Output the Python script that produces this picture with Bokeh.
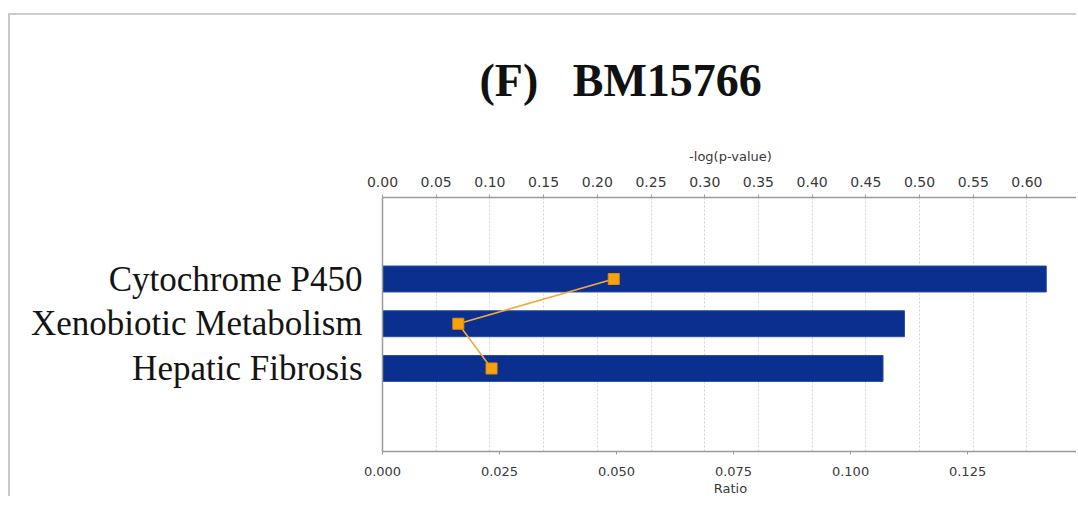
from bokeh.plotting import figure
from bokeh.models import Range1d, LinearAxis, FixedTicker, NumeralTickFormatter, ColumnDataSource
from bokeh.embed import file_html
from bokeh.resources import INLINE

# ---- data ----
pathways = ["Cytochrome P450", "Xenobiotic Metabolism", "Hepatic Fibrosis"]
neg_log_p = [0.618, 0.486, 0.466]
ratio = [0.0494, 0.0162, 0.0233]
top_ticks = [0.00, 0.05, 0.10, 0.15, 0.20, 0.25, 0.30, 0.35, 0.40, 0.45, 0.50, 0.55, 0.60]
bottom_ticks = [0.000, 0.025, 0.050, 0.075, 0.100, 0.125, 0.150]
title_text = "(F)\u00a0\u00a0 BM15766"

n = len(pathways)
ypos = [n - i for i in range(n)]
src = ColumnDataSource(dict(y=ypos, name=pathways, p=neg_log_p, r=ratio))

p = figure(width=1068, height=483, output_backend="svg", toolbar_location=None,
           x_range=Range1d(0, 0.648), y_range=Range1d(-0.856, 4.822),
           x_axis_location="above", min_border_left=372, min_border_right=0,
           min_border_top=182, min_border_bottom=45)
p.styles = {"border-top": "2px solid #cbcbcb", "border-left": "2px solid #cbcbcb",
            "margin-top": "13px", "margin-left": "8px"}
p.outline_line_color = None
p.extra_x_ranges = {"ratio": Range1d(0, 0.1487)}

# title
p.title.text = title_text
p.title.text_font = "Liberation Serif"
p.title.text_font_style = "bold"
p.title.text_font_size = "46px"
p.title.text_color = "#111111"
p.title.align = "left"
p.title.vertical_align = "top"
p.title.offset = 97
p.title.standoff = 76

# bars (top axis: -log(p-value))
p.hbar(y="y", right="p", left=0, height=0.58, source=src,
       fill_color="#0a2f8f", line_color="#2a4ea3", line_width=1)

# ratio line + squares (bottom axis)
p.line(x="r", y="y", source=src, x_range_name="ratio", line_color="#f2a93b", line_width=1.6)
p.scatter(x="r", y="y", source=src, x_range_name="ratio", marker="square", size=11,
          fill_color="#f7a20f", line_color="#e58c00", line_width=1)

# top axis
ax = p.xaxis[0]
ax.ticker = FixedTicker(ticks=top_ticks)
ax.formatter = NumeralTickFormatter(format="0.00")
ax.axis_label = "-log(p-value)"

bax = LinearAxis(x_range_name="ratio")
bax.ticker = FixedTicker(ticks=bottom_ticks)
bax.formatter = NumeralTickFormatter(format="0.000")
bax.axis_label = "Ratio"
p.add_layout(bax, "below")

for a in [ax, bax]:
    a.axis_line_color = "#9a9a9a"
    a.axis_line_width = 1.5
    a.major_tick_line_color = "#9a9a9a"
    a.major_tick_out = 3
    a.major_tick_in = 0
    a.minor_tick_line_color = None
    a.major_label_text_font = "DejaVu Sans"
    a.major_label_text_color = "#3a3a3a"
    a.axis_label_text_font = "DejaVu Sans"
    a.axis_label_text_font_style = "normal"
    a.axis_label_text_color = "#3a3a3a"
ax.major_label_text_font_size = "14px"
ax.axis_label_text_font_size = "13px"
ax.major_label_standoff = 8
ax.axis_label_standoff = 10
bax.major_label_text_font_size = "13px"
bax.axis_label_text_font_size = "13px"
bax.major_label_standoff = 12
bax.axis_label_standoff = 2

# left axis with pathway names
ya = p.yaxis[0]
ya.ticker = FixedTicker(ticks=ypos)
ya.major_label_overrides = {y: name for y, name in zip(ypos, pathways)}
ya.axis_line_color = "#9a9a9a"
ya.axis_line_width = 1.5
ya.major_tick_line_color = None
ya.minor_tick_line_color = None
ya.major_label_text_font = "Liberation Serif"
ya.major_label_text_font_size = "35px"
ya.major_label_text_color = "#141414"
ya.major_label_standoff = 14

# grids
p.ygrid.grid_line_color = None
p.xgrid.ticker = FixedTicker(ticks=top_ticks)
p.xgrid.grid_line_color = "#d4d4d4"
p.xgrid.grid_line_dash = "2 2"
p.xgrid.grid_line_width = 1

open("out.html", "w").write(file_html(p, INLINE))
